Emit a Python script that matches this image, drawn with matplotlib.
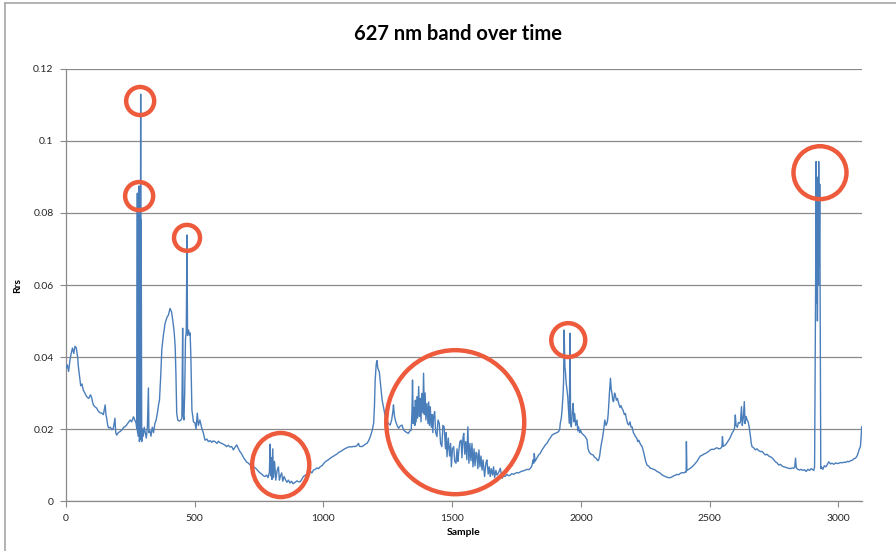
import matplotlib
matplotlib.use("Agg")
import matplotlib.pyplot as plt
from matplotlib.patches import Ellipse
from matplotlib.lines import Line2D

plt.rcParams['font.family'] = ['Lato', 'DejaVu Sans']

# Sample index and reflectance (Rrs) at 627 nm
sample = [
    0, 5, 10, 15, 20, 25, 30, 35, 40, 45,
    48, 52, 57, 62, 67, 73, 80, 88, 95, 100,
    103, 106, 112, 119, 125, 132, 139, 145, 152, 155,
    158, 162, 165, 172, 178, 184, 190, 193, 197, 203,
    210, 218, 224, 229, 236, 242, 249, 255, 262, 267,
    272, 275, 277, 278, 280, 281, 283, 285, 288, 290,
    291, 292, 294, 297, 300, 304, 308, 312, 316, 320,
    322, 326, 330, 335, 340, 345, 350, 355, 360, 363,
    368, 372, 378, 385, 392, 398, 404, 410, 415, 420,
    424, 427, 430, 434, 440, 446, 450, 452, 453, 455,
    458, 461, 464, 467, 470, 472, 476, 480, 482, 485,
    489, 495, 501, 505, 510, 514, 520, 527, 533, 540,
    547, 553, 560, 566, 572, 579, 586, 592, 598, 605,
    611, 618, 624, 630, 637, 644, 650, 657, 663, 670,
    676, 683, 690, 696, 702, 709, 715, 722, 728, 735,
    741, 748, 754, 760, 767, 773, 780, 785, 790, 793,
    795, 798, 800, 803, 806, 810, 815, 820, 825, 829,
    833, 838, 842, 847, 852, 858, 864, 870, 876, 882,
    890, 897, 904, 910, 916, 922, 930, 936, 942, 950,
    955, 961, 968, 975, 981, 987, 994, 1000, 1007, 1013,
    1020, 1026, 1033, 1040, 1046, 1052, 1059, 1065, 1072, 1078,
    1085, 1091, 1098, 1104, 1110, 1117, 1123, 1130, 1136, 1140,
    1149, 1156, 1163, 1169, 1176, 1182, 1189, 1195, 1198, 1201,
    1205, 1208, 1211, 1214, 1217, 1221, 1224, 1228, 1233, 1240,
    1247, 1253, 1259, 1265, 1270, 1272, 1276, 1281, 1286, 1292,
    1298, 1305, 1311, 1318, 1324, 1330, 1336, 1341, 1344, 1346,
    1349, 1352, 1355, 1357, 1360, 1363, 1366, 1370, 1373, 1376,
    1379, 1382, 1386, 1389, 1392, 1395, 1398, 1402, 1406, 1409,
    1412, 1415, 1419, 1422, 1425, 1428, 1432, 1436, 1441, 1445,
    1450, 1455, 1460, 1464, 1469, 1474, 1477, 1480, 1485, 1490,
    1494, 1497, 1501, 1506, 1510, 1515, 1519, 1522, 1525, 1530,
    1535, 1538, 1542, 1545, 1549, 1553, 1557, 1561, 1565, 1569,
    1573, 1577, 1581, 1585, 1589, 1593, 1596, 1600, 1604, 1608,
    1612, 1616, 1620, 1626, 1631, 1635, 1640, 1644, 1648, 1652,
    1657, 1661, 1665, 1670, 1674, 1680, 1687, 1694, 1700, 1706,
    1713, 1720, 1726, 1732, 1739, 1745, 1752, 1758, 1765, 1771,
    1778, 1784, 1791, 1797, 1804, 1810, 1814, 1817, 1819, 1822,
    1828, 1836, 1842, 1849, 1855, 1862, 1868, 1875, 1881, 1888,
    1894, 1901, 1907, 1914, 1918, 1920, 1924, 1927, 1931, 1933,
    1935, 1938, 1940, 1943, 1946, 1949, 1952, 1955, 1958, 1960,
    1963, 1967, 1970, 1973, 1976, 1980, 1985, 1988, 1991, 1995,
    1998, 2004, 2011, 2017, 2024, 2028, 2033, 2040, 2047, 2053,
    2060, 2066, 2069, 2073, 2076, 2080, 2085, 2089, 2093, 2098,
    2103, 2106, 2108, 2111, 2115, 2118, 2121, 2124, 2127, 2131,
    2134, 2138, 2142, 2147, 2152, 2156, 2160, 2165, 2169, 2173,
    2178, 2182, 2186, 2191, 2195, 2199, 2204, 2208, 2212, 2217,
    2221, 2225, 2230, 2234, 2238, 2243, 2248, 2252, 2257, 2263,
    2270, 2276, 2283, 2289, 2296, 2302, 2309, 2315, 2322, 2328,
    2335, 2341, 2348, 2354, 2361, 2367, 2374, 2380, 2387, 2393,
    2400, 2406, 2409, 2410, 2412, 2419, 2425, 2432, 2438, 2445,
    2451, 2458, 2464, 2471, 2477, 2484, 2490, 2497, 2503, 2510,
    2516, 2522, 2529, 2535, 2542, 2548, 2550, 2553, 2558, 2562,
    2568, 2574, 2580, 2587, 2593, 2597, 2600, 2603, 2608, 2612,
    2617, 2620, 2624, 2627, 2631, 2635, 2638, 2642, 2646, 2650,
    2654, 2659, 2662, 2665, 2671, 2678, 2684, 2691, 2698, 2704,
    2711, 2717, 2723, 2730, 2736, 2743, 2749, 2756, 2762, 2769,
    2775, 2782, 2788, 2795, 2801, 2808, 2814, 2821, 2827, 2831,
    2834, 2837, 2843, 2849, 2856, 2862, 2869, 2875, 2882, 2888,
    2895, 2901, 2905, 2908, 2910, 2912, 2914, 2916, 2918, 2919,
    2921, 2923, 2924, 2926, 2928, 2930, 2932, 2935, 2940, 2946,
    2952, 2958, 2963, 2970, 2976, 2983, 2990, 2996, 3002, 3009,
    3015, 3022, 3028, 3035, 3041, 3048, 3054, 3060, 3067, 3073,
    3078, 3082, 3086, 3089, 3091,
]

rrs = [
    .0370, .0378, .0360, .0390, .0410, .0425, .0410, .0430, .0425, .0400,
    .0373, .0350, .0320, .0325, .0308, .0300, .0290, .0285, .0295, .0286,
    .0275, .0267, .0262, .0258, .0250, .0245, .0244, .0240, .0267, .0240,
    .0230, .0210, .0203, .0205, .0198, .0203, .0230, .0190, .0183, .0190,
    .0193, .0198, .0205, .0206, .0212, .0218, .0225, .0220, .0234, .0225,
    .0217, .0200, .0855, .0190, .0800, .0180, .0875, .0165, .0200, .1130,
    .0170, .0780, .0165, .0200, .0180, .0205, .0190, .0175, .0205, .0314,
    .0190, .0195, .0180, .0205, .0190, .0215, .0225, .0245, .0270, .0280,
    .0350, .0420, .0460, .0494, .0510, .0517, .0535, .0525, .0500, .0470,
    .0429, .0350, .0244, .0225, .0222, .0225, .0230, .0400, .0480, .0240,
    .0225, .0300, .0450, .0470, .0739, .0460, .0475, .0460, .0467, .0400,
    .0253, .0220, .0217, .0200, .0244, .0210, .0225, .0203, .0190, .0169,
    .0172, .0165, .0168, .0163, .0167, .0165, .0160, .0166, .0162, .0160,
    .0158, .0155, .0151, .0155, .0150, .0151, .0142, .0150, .0156, .0145,
    .0137, .0130, .0120, .0114, .0108, .0105, .0100, .0098, .0095, .0092,
    .0088, .0082, .0078, .0075, .0070, .0068, .0072, .0065, .0080, .0158,
    .0070, .0120, .0060, .0145, .0065, .0110, .0058, .0085, .0095, .0058,
    .0070, .0078, .0055, .0068, .0060, .0052, .0058, .0050, .0055, .0048,
    .0052, .0056, .0053, .0054, .0060, .0068, .0072, .0075, .0078, .0082,
    .0078, .0086, .0088, .0092, .0090, .0095, .0098, .0103, .0109, .0112,
    .0115, .0119, .0122, .0125, .0128, .0130, .0135, .0137, .0140, .0143,
    .0146, .0148, .0150, .0151, .0150, .0152, .0151, .0154, .0160, .0152,
    .0151, .0154, .0158, .0160, .0168, .0179, .0195, .0216, .0260, .0336,
    .0380, .0390, .0370, .0364, .0359, .0330, .0308, .0280, .0262, .0235,
    .0220, .0215, .0211, .0225, .0250, .0267, .0235, .0220, .0210, .0202,
    .0208, .0211, .0198, .0193, .0190, .0188, .0195, .0197, .0250, .0336,
    .0215, .0260, .0210, .0280, .0220, .0290, .0230, .0318, .0235, .0285,
    .0220, .0299, .0245, .0355, .0240, .0300, .0225, .0271, .0215, .0275,
    .0210, .0262, .0205, .0240, .0190, .0235, .0248, .0190, .0179, .0225,
    .0216, .0160, .0151, .0210, .0206, .0145, .0190, .0123, .0175, .0125,
    .0160, .0095, .0145, .0151, .0110, .0105, .0145, .0110, .0132, .0165,
    .0169, .0120, .0175, .0188, .0130, .0165, .0115, .0206, .0105, .0160,
    .0112, .0160, .0095, .0145, .0098, .0135, .0132, .0090, .0142, .0095,
    .0125, .0086, .0114, .0068, .0105, .0114, .0075, .0095, .0068, .0090,
    .0072, .0095, .0065, .0085, .0072, .0078, .0091, .0063, .0070, .0068,
    .0074, .0070, .0072, .0076, .0074, .0077, .0079, .0078, .0081, .0083,
    .0084, .0086, .0088, .0087, .0091, .0098, .0114, .0105, .0132, .0110,
    .0118, .0128, .0132, .0142, .0148, .0156, .0160, .0169, .0175, .0183,
    .0186, .0188, .0190, .0193, .0200, .0216, .0230, .0253, .0299, .0336,
    .0475, .0373, .0360, .0327, .0310, .0290, .0253, .0216, .0466, .0220,
    .0206, .0250, .0271, .0220, .0243, .0210, .0225, .0195, .0206, .0190,
    .0197, .0188, .0183, .0179, .0170, .0145, .0135, .0130, .0128, .0122,
    .0118, .0112, .0114, .0125, .0142, .0160, .0179, .0200, .0225, .0210,
    .0220, .0240, .0262, .0300, .0341, .0310, .0299, .0280, .0276, .0300,
    .0294, .0280, .0285, .0271, .0260, .0265, .0257, .0250, .0240, .0243,
    .0225, .0215, .0211, .0220, .0205, .0206, .0190, .0185, .0179, .0175,
    .0165, .0169, .0160, .0155, .0151, .0138, .0123, .0110, .0100, .0097,
    .0091, .0090, .0088, .0086, .0082, .0080, .0077, .0073, .0070, .0068,
    .0066, .0065, .0065, .0067, .0070, .0072, .0074, .0073, .0077, .0079,
    .0078, .0081, .0080, .0165, .0085, .0088, .0091, .0095, .0099, .0105,
    .0110, .0118, .0125, .0127, .0130, .0132, .0135, .0138, .0142, .0144,
    .0143, .0146, .0148, .0145, .0146, .0150, .0179, .0152, .0154, .0156,
    .0162, .0169, .0176, .0188, .0195, .0202, .0239, .0210, .0205, .0218,
    .0216, .0220, .0262, .0210, .0230, .0276, .0215, .0235, .0225, .0220,
    .0205, .0179, .0160, .0151, .0148, .0142, .0145, .0140, .0137, .0138,
    .0132, .0128, .0130, .0125, .0123, .0120, .0115, .0109, .0106, .0100,
    .0102, .0097, .0095, .0094, .0092, .0091, .0090, .0092, .0091, .0095,
    .0119, .0092, .0088, .0086, .0088, .0085, .0087, .0082, .0088, .0085,
    .0090, .0087, .0085, .0095, .0340, .0600, .0943, .0550, .0850, .0500,
    .0900, .0600, .0943, .0650, .0880, .0450, .0090, .0095, .0088, .0098,
    .0095, .0102, .0109, .0103, .0105, .0102, .0106, .0104, .0105, .0107,
    .0106, .0108, .0107, .0110, .0109, .0112, .0113, .0117, .0119, .0125,
    .0135, .0145, .0151, .0180, .0206,
]

x_ticks = [0, 500, 1000, 1500, 2000, 2500, 3000]
y_ticks = [0, 0.02, 0.04, 0.06, 0.08, 0.1, 0.12]
y_tick_labels = ["0", "0.02", "0.04", "0.06", "0.08", "0.1", "0.12"]

# Highlighted features: (sample, Rrs, width in samples, height in Rrs)
highlights = [
    (288, 0.1111, 109, 0.0078),
    (284, 0.0847, 109, 0.0078),
    (470, 0.0731, 101, 0.0072),
    (834, 0.0100, 222, 0.0178),
    (1512, 0.0219, 536, 0.0400),
    (1951, 0.0447, 132, 0.0094),
    (2929, 0.0912, 206, 0.0147),
]

fig = plt.figure(figsize=(8.96, 5.51), dpi=100)
ax = fig.add_axes([0.0737, 0.0907, 0.8883, 0.7841])

grid_color = "#8a8a8a"
ax.plot(sample, rrs, color="#4a7ebb", linewidth=1.0, zorder=3)

ax.set_xlim(0, 3092)
ax.set_ylim(0, 0.12)
ax.set_xticks(x_ticks)
ax.set_yticks(y_ticks)
ax.set_yticklabels(y_tick_labels)
ax.yaxis.grid(True, color=grid_color, linewidth=0.9)
ax.set_axisbelow(True)

for side in ("top", "right"):
    ax.spines[side].set_visible(False)
for side in ("left", "bottom"):
    ax.spines[side].set_color(grid_color)
    ax.spines[side].set_linewidth(0.9)

ax.tick_params(axis="both", which="major", direction="out", length=4,
               width=0.8, color=grid_color, labelsize=7.5,
               labelcolor="#262626", pad=5)

ax.set_xlabel("Sample", fontsize=7.5, fontweight="bold", labelpad=4)
ax.set_ylabel("Rrs", fontsize=7.5, fontweight="bold", labelpad=8)
fig.text(0.5117, 0.938, "627 nm band over time", ha="center", va="center",
         fontsize=14.5, fontweight="bold", color="black")

for cx, cy, w, h in highlights:
    ax.add_patch(Ellipse((cx, cy), w, h, fill=False, edgecolor="#ee5a3c",
                         linewidth=3.2, zorder=4, clip_on=False))

# Chart-area frame (left and top edges)
fig.add_artist(Line2D([0.0056, 0.0056], [0, 0.9946], color="#a6a6a6",
                      linewidth=1.2, transform=fig.transFigure))
fig.add_artist(Line2D([0.0056, 1.0], [0.9946, 0.9946], color="#a6a6a6",
                      linewidth=1.2, transform=fig.transFigure))

fig.savefig("out.png", dpi=100, facecolor="white")
